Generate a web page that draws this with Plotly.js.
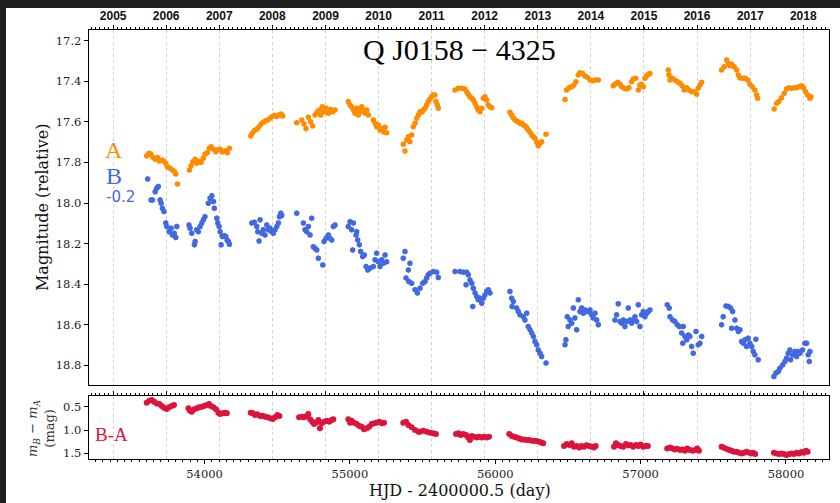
<!DOCTYPE html>
<html>
<head>
<meta charset="utf-8">
<script src="https://cdn.plot.ly/plotly-3.0.1.min.js"></script>
<style>
html,body{margin:0;padding:0;background:#1f1f1f;width:840px;height:503px;overflow:hidden;}
#chart{position:absolute;left:6px;top:8px;width:834px;height:495px;background:#fff;}
</style>
</head>
<body>
<div id="chart"></div>
<script>
// ---- Image A (relative magnitude) ----
const aMJD = [
53602,53618,53630,53644,53660,53675,53689,53706,53721,53733,53744,53763,53779,53792,53802,53813,
53896,53907,53919,53935,53946,53962,53976,53992,54003,54019,54033,54045,54061,54077,54088,54107,54122,54141,54157,54171,
54318,54329,54343,54359,54375,54389,54404,54421,54435,54451,54466,54480,54497,54512,54526,54538,
54634,54669,54684,54698,54714,54730,54744,54760,54776,54790,54799,54810,54822,54836,54852,54868,54882,54898,
54989,55001,55012,55024,55035,55047,55058,55070,55081,55092,55104,55116,55127,55161,55173,55184,55195,55207,55219,55230,55242,55253,
55367,55379,55391,55402,55413,55425,55436,55448,55460,55471,55482,55494,55505,55517,55528,55539,55551,55563,55574,55585,55592,55601,55608,
55723,55746,55769,55792,55803,55814,55826,55838,55849,55861,55872,55883,55895,55907,55918,55929,55941,55952,55964,55975,
56101,56113,56124,56136,56147,56158,56170,56182,56193,56204,56216,56227,56239,56251,56262,56273,56285,56296,56308,56319,56349,
56480,56491,56509,56526,56541,56555,56571,56583,56601,56617,56633,56652,56670,56686,56709,
56812,56823,56842,56858,56870,56887,56904,56920,56938,56949,56966,56984,56995,57007,57018,57030,57042,57053,57064,
57190,57195,57202,57218,57236,57255,57271,57286,57300,57317,57332,57351,57369,57385,57396,57408,57420,
57557,57575,57592,57603,57614,57626,57644,57661,57672,57683,57699,57718,57736,57752,57768,57786,57798,57805,
57919,57936,57951,57970,57988,58004,58020,58039,58057,58073,58089,58108,58121,58135,58149,58165,58172
];
const aMag = [
17.768,17.755,17.758,17.774,17.784,17.776,17.793,17.788,17.794,17.804,17.821,17.829,17.837,17.845,17.857,17.906,
17.837,17.816,17.796,17.784,17.804,17.794,17.799,17.779,17.758,17.752,17.730,17.722,17.735,17.747,17.738,17.735,17.748,17.742,17.752,17.730,
17.669,17.656,17.643,17.636,17.624,17.610,17.602,17.594,17.591,17.582,17.574,17.569,17.574,17.566,17.561,17.571,
17.604,17.591,17.610,17.632,17.577,17.599,17.620,17.566,17.550,17.541,17.566,17.525,17.550,17.533,17.558,17.538,17.550,17.541,
17.500,17.517,17.525,17.541,17.558,17.533,17.566,17.550,17.525,17.541,17.558,17.541,17.566,17.591,17.607,17.624,17.615,17.640,17.632,17.648,17.627,17.653,
17.710,17.743,17.689,17.673,17.698,17.665,17.624,17.607,17.582,17.566,17.550,17.553,17.541,17.533,17.517,17.500,17.487,17.476,17.467,17.467,17.500,17.517,17.533,
17.443,17.434,17.434,17.438,17.451,17.464,17.476,17.484,17.492,17.508,17.525,17.541,17.550,17.533,17.484,17.476,17.492,17.517,17.525,17.530,
17.553,17.566,17.579,17.591,17.596,17.599,17.607,17.607,17.615,17.619,17.629,17.640,17.651,17.665,17.673,17.681,17.700,17.717,17.705,17.698,17.661,
17.489,17.443,17.430,17.427,17.418,17.402,17.369,17.358,17.361,17.374,17.380,17.394,17.397,17.394,17.394,
17.422,17.415,17.405,17.415,17.427,17.434,17.438,17.432,17.402,17.389,17.385,17.443,17.418,17.415,17.427,17.385,17.372,17.366,17.361,
17.344,17.369,17.394,17.385,17.394,17.402,17.410,17.422,17.443,17.432,17.443,17.451,17.451,17.464,17.434,17.418,17.405,
17.344,17.328,17.295,17.311,17.323,17.316,17.328,17.344,17.369,17.382,17.385,17.385,17.394,17.415,17.427,17.443,17.467,17.484,
17.536,17.508,17.500,17.481,17.459,17.438,17.432,17.434,17.432,17.432,17.427,17.422,17.432,17.451,17.467,17.484,17.476
];

// ---- Image B (shifted by -0.2 mag) ----
const bMJD = [
53609,53632,53641,53660,53671,53682,53694,53701,53710,53721,53733,53740,53756,53770,53779,53792,53802,53809,
53893,53900,53912,53930,53935,53946,53957,53969,53981,53992,54003,54026,54038,54050,54061,54067,54084,54091,54100,54107,54114,54122,54136,54146,54155,54164,54171,
54325,54343,54359,54366,54375,54382,54393,54404,54416,54428,54439,54451,54462,54473,54485,54497,54508,54515,54524,54531,
54634,54680,54691,54703,54714,54726,54737,54748,54760,54772,54783,54813,54822,54836,54852,54863,54875,54886,54898,
54989,55001,55012,55019,55024,55042,55047,55054,55065,55074,55088,55099,55111,55123,55138,55161,55173,55184,55195,55207,55219,55230,55242,55253,
55367,55379,55386,55402,55405,55413,55425,55448,55464,55482,55501,55517,55528,55539,55551,55574,55597,55608,
55723,55757,55780,55803,55814,55799,55826,55838,55849,55861,55845,55872,55883,55895,55907,55918,55929,55941,55952,55964,
56101,56113,56124,56116,56147,56158,56170,56193,56204,56216,56227,56239,56251,56262,56273,56285,56296,56308,56319,56349,
56480,56486,56495,56502,56514,56526,56537,56548,56560,56571,56583,56594,56605,56617,56629,56640,56652,56663,56674,56686,56698,56709,
56823,56835,56846,56858,56870,56881,56892,56904,56915,56927,56938,56949,56961,56973,56984,56995,57007,57018,57030,57042,57053,57064,
57183,57197,57202,57220,57236,57252,57266,57282,57293,57305,57290,57317,57328,57339,57351,57362,57381,57396,57408,57420,
57557,57568,57587,57603,57619,57633,57626,57649,57661,57672,57683,57695,57706,57718,57729,57740,57752,57764,57775,57793,57786,57809,
57917,57931,57947,57958,57977,57993,58004,58015,58027,58032,58046,58061,58073,58084,58096,58114,58130,58142,58153,58165,58160
];
const bMag = [
17.881,17.985,17.985,17.944,17.927,17.919,17.985,18.001,18.026,18.042,18.099,18.116,18.141,18.124,18.157,18.149,18.170,18.116,
18.108,18.124,18.149,18.206,18.190,18.132,18.141,18.116,18.099,18.083,18.067,18.001,17.976,17.964,17.993,18.026,18.075,18.099,18.116,18.141,18.206,18.165,18.161,18.165,18.182,18.190,18.203,
18.099,18.095,18.116,18.141,18.187,18.083,18.149,18.132,18.157,18.108,18.132,18.124,18.141,18.149,18.132,18.116,18.099,18.067,18.050,18.062,
18.050,18.099,18.132,18.141,18.116,18.157,18.075,18.215,18.223,18.231,18.272,18.305,18.190,18.173,18.157,18.173,18.182,18.116,18.108,
18.116,18.092,18.132,18.231,18.099,18.157,18.141,18.182,18.206,18.239,18.264,18.256,18.313,18.330,18.321,18.313,18.280,18.247,18.289,18.313,18.280,18.297,18.256,18.289,
18.272,18.239,18.370,18.330,18.387,18.297,18.395,18.428,18.444,18.420,18.395,18.387,18.370,18.354,18.346,18.338,18.341,18.367,
18.338,18.338,18.341,18.341,18.354,18.403,18.379,18.395,18.420,18.444,18.510,18.461,18.477,18.469,18.494,18.469,18.453,18.436,18.428,18.444,
18.436,18.469,18.486,18.510,18.518,18.535,18.551,18.560,18.576,18.543,18.609,18.625,18.641,18.658,18.683,18.699,18.724,18.740,18.757,18.789,
18.699,18.674,18.560,18.609,18.576,18.592,18.518,18.567,18.625,18.477,18.535,18.518,18.543,18.527,18.535,18.535,18.527,18.551,18.567,18.543,18.576,18.600,
18.576,18.551,18.497,18.584,18.592,18.576,18.609,18.584,18.518,18.576,18.592,18.576,18.560,18.584,18.502,18.609,18.551,18.535,18.560,18.543,18.535,18.527,
18.502,18.518,18.560,18.576,18.584,18.600,18.609,18.641,18.609,18.658,18.691,18.674,18.650,18.658,18.707,18.740,18.633,18.699,18.691,18.658,
18.600,18.560,18.507,18.510,18.518,18.535,18.617,18.576,18.617,18.633,18.625,18.683,18.691,18.674,18.707,18.666,18.691,18.707,18.732,18.671,18.748,18.773,
18.855,18.838,18.831,18.814,18.798,18.781,18.765,18.740,18.724,18.773,18.748,18.732,18.757,18.732,18.740,18.724,18.691,18.691,18.748,18.732,18.781
];

// ---- Difference light curve B-A (mag) ----
const baMJD = [
53602,53620,53637,53653,53671,53689,53706,53721,53740,53756,53774,53790,
53889,53900,53912,53928,53946,53964,53981,53997,54015,54031,54043,54061,54079,54095,54107,54125,54141,54153,
54318,54332,54347,54363,54382,54400,54416,54435,54451,54469,54485,54501,54515,
54650,54669,54684,54703,54714,54726,54741,54753,54767,54783,54794,54806,54822,54841,54858,54875,54886,
54989,55001,55012,55028,55047,55065,55081,55097,55116,55133,55150,55166,55184,55202,55219,55235,
55367,55386,55402,55425,55448,55471,55482,55505,55528,55551,55574,55592,
55730,55746,55762,55780,55799,55814,55826,55838,55854,55872,55890,55907,55922,55941,55957,
56096,56113,56129,56147,56165,56182,56198,56216,56234,56251,56266,56285,56303,56319,56330,
56473,56491,56509,56526,56541,56560,56578,56594,56610,56629,56647,56663,56679,56691,
56817,56830,56846,56863,56881,56899,56915,56931,56949,56968,56984,57000,57018,57037,57050,
57183,57202,57220,57236,57252,57271,57289,57305,57321,57339,57358,57374,57390,57401,
57557,57573,57592,57610,57626,57642,57661,57678,57695,57711,57729,57747,57764,57775,57788,
57917,57936,57953,57970,57986,58004,58022,58039,58055,58073,58091,58108,58123,58137,58149
];
const baVal = [
0.414,0.371,0.356,0.393,0.429,0.442,0.485,0.521,0.549,0.513,0.485,0.464,
0.534,0.586,0.607,0.556,0.534,0.513,0.500,0.485,0.464,0.442,0.485,0.513,0.556,0.629,0.657,0.642,0.629,0.642,
0.629,0.642,0.678,0.663,0.700,0.693,0.715,0.727,0.749,0.764,0.727,0.678,0.700,
0.727,0.715,0.727,0.700,0.657,0.770,0.822,0.871,0.843,0.785,0.963,0.856,0.822,0.800,0.822,0.785,0.770,
0.770,0.843,0.800,0.843,0.871,0.914,0.929,0.985,0.963,0.929,0.871,0.856,0.843,0.822,0.856,0.843,
0.843,0.822,0.893,0.942,1.000,1.036,1.036,1.015,1.036,1.058,1.071,1.086,
1.086,1.071,1.107,1.086,1.107,1.157,1.215,1.129,1.144,1.157,1.144,1.157,1.144,1.157,1.144,
1.086,1.129,1.144,1.157,1.179,1.200,1.200,1.215,1.215,1.230,1.230,1.236,1.251,1.272,1.285,
1.343,1.300,1.322,1.285,1.358,1.343,1.371,1.343,1.358,1.328,1.343,1.358,1.371,1.343,
1.358,1.285,1.322,1.343,1.358,1.300,1.328,1.322,1.358,1.322,1.343,1.307,1.358,1.337,1.343,
1.393,1.371,1.393,1.414,1.401,1.429,1.414,1.444,1.393,1.429,1.444,1.429,1.393,1.444,
1.358,1.380,1.408,1.429,1.444,1.466,1.466,1.487,1.500,1.487,1.466,1.487,1.500,1.487,1.515,
1.487,1.500,1.515,1.500,1.515,1.536,1.515,1.500,1.515,1.487,1.500,1.472,1.487,1.444,1.466
];

// ---- Axis ticks ----
const yearMJD = [53371,53736,54101,54466,54832,55197,55562,55927,56293,56658,57023,57388,57754,58119];
const yearLabels = ["2005","2006","2007","2008","2009","2010","2011","2012","2013","2014","2015","2016","2017","2018"];
const mjdTicks = [54000,55000,56000,57000,58000];
const magTicks = [17.2,17.4,17.6,17.8,18.0,18.2,18.4,18.6,18.8];
const diffTicks = [0.5,1.0,1.5];

const serif = "DejaVu Serif";
const tickFont = {family: serif, size: 11.5, color: "#222"};
const xRange = [53205, 58296];

const traces = [
  {x: aMJD, y: aMag, xaxis: "x2", yaxis: "y", type: "scatter", mode: "markers",
   marker: {color: "#ff8c00", size: 5.5}, hoverinfo: "skip"},
  {x: bMJD, y: bMag, xaxis: "x2", yaxis: "y", type: "scatter", mode: "markers",
   marker: {color: "#4169e1", size: 5.5},
   error_y: {type: "constant", value: 0.014, color: "#999", thickness: 1, width: 0},
   hoverinfo: "skip"},
  {x: baMJD, y: baVal, xaxis: "x", yaxis: "y2", type: "scatter", mode: "markers",
   marker: {color: "#dc143c", size: 6}, hoverinfo: "skip"},
  {x: [], y: [], xaxis: "x4", yaxis: "y2", type: "scatter", mode: "markers", hoverinfo: "skip"}
];

const gridStyle = {showgrid: true, gridcolor: "#d0d0d0", gridwidth: 1, griddash: "dot"};
const monthlyMinor = {ticks: "outside", ticklen: 2, tickwidth: 1, tickcolor: "#000", tick0: 53371, dtick: 30.44, showgrid: false};

const layout = {
  width: 834, height: 495,
  margin: {l: 83, r: 11, t: 22, b: 44},
  paper_bgcolor: "#ffffff", plot_bgcolor: "#ffffff",
  showlegend: false,
  // bottom panel MJD axis
  xaxis: {anchor: "y2", domain: [0, 1], range: xRange, side: "bottom",
    tickmode: "array", tickvals: mjdTicks, ticktext: mjdTicks.map(String),
    ticks: "outside", ticklen: 4, tickwidth: 1, tickcolor: "#000",
    minor: {ticks: "outside", ticklen: 2, tickwidth: 1, tickcolor: "#000", tick0: 53200, dtick: 50, showgrid: false},
    showline: true, linecolor: "#000", linewidth: 1.3, mirror: false,
    showgrid: false, zeroline: false, tickfont: tickFont},
  // bottom panel year grid + top tick row
  xaxis4: {anchor: "y2", overlaying: "x", range: xRange, side: "top",
    tickmode: "array", tickvals: yearMJD, showticklabels: false,
    ticks: "outside", ticklen: 4, tickwidth: 1, tickcolor: "#000",
    minor: monthlyMinor,
    showline: true, linecolor: "#000", linewidth: 1.3,
    zeroline: false, ...gridStyle},
  // main panel year axis on top
  xaxis2: {anchor: "y", domain: [0, 1], range: xRange, side: "top",
    tickmode: "array", tickvals: yearMJD, ticktext: yearLabels,
    ticks: "outside", ticklen: 4, tickwidth: 1, tickcolor: "#000",
    minor: monthlyMinor,
    showline: true, linecolor: "#000", linewidth: 1.3, mirror: true,
    zeroline: false, ...gridStyle,
    tickfont: {family: "Liberation Sans", size: 12, color: "#111", weight: "bold"}},
  yaxis: {anchor: "x2", domain: [0.1725, 1], range: [18.897, 17.147],
    tickmode: "array", tickvals: magTicks, ticktext: magTicks.map(v => v.toFixed(1)),
    ticks: "outside", ticklen: 4, tickwidth: 1, tickcolor: "#000",
    showline: true, linecolor: "#000", linewidth: 1.3, mirror: true,
    showgrid: false, zeroline: false, tickfont: tickFont},
  yaxis2: {anchor: "x", domain: [0, 0.1469], range: [1.62, 0.27],
    tickmode: "array", tickvals: diffTicks, ticktext: diffTicks.map(v => v.toFixed(1)),
    ticks: "outside", ticklen: 4, tickwidth: 1, tickcolor: "#000",
    showline: true, linecolor: "#000", linewidth: 1.3, mirror: true,
    showgrid: false, zeroline: false, tickfont: tickFont},
  annotations: [
    {text: "Q J0158 − 4325", xref: "paper", yref: "paper", x: 0.5007, y: 0.9557,
     xanchor: "center", yanchor: "middle", showarrow: false,
     font: {family: "Liberation Serif", size: 30, color: "#000"}},
    {text: "A", xref: "paper", yref: "paper", x: 0.0338, y: 0.72,
     xanchor: "center", yanchor: "middle", showarrow: false,
     font: {family: "Liberation Serif", size: 24, color: "#ff8c00"}},
    {text: "B", xref: "paper", yref: "paper", x: 0.0338, y: 0.6597,
     xanchor: "center", yanchor: "middle", showarrow: false,
     font: {family: "Liberation Serif", size: 24, color: "#4169e1"}},
    {text: "-0.2", xref: "paper", yref: "paper", x: 0.0207, y: 0.6107,
     xanchor: "left", yanchor: "middle", showarrow: false,
     font: {family: "DejaVu Sans", size: 15, color: "#4169e1"}},
    {text: "B-A", xref: "paper", yref: "paper", x: 0.0307, y: 0.0571,
     xanchor: "center", yanchor: "middle", showarrow: false,
     font: {family: "Liberation Serif", size: 19, color: "#dc143c"}},
    {text: "Magnitude (relative)", xref: "paper", yref: "paper", x: -0.0635, y: 0.585,
     xanchor: "center", yanchor: "middle", showarrow: false, textangle: -90,
     font: {family: serif, size: 16, color: "#111"}},
    {text: "<i>m</i><sub><i>B</i></sub> − <i>m</i><sub><i>A</i></sub><br>(mag)", xref: "paper", yref: "paper",
     x: -0.0649, y: 0.0723, xanchor: "center", yanchor: "middle", showarrow: false, textangle: -90,
     font: {family: serif, size: 13, color: "#333"}},
    {text: "HJD - 2400000.5 (day)", xref: "paper", yref: "paper", x: 0.5007, y: -0.0723,
     xanchor: "center", yanchor: "middle", showarrow: false,
     font: {family: serif, size: 16, color: "#111"}}
  ]
};

Plotly.newPlot("chart", traces, layout, {staticPlot: true, displayModeBar: false});
</script>
</body>
</html>
